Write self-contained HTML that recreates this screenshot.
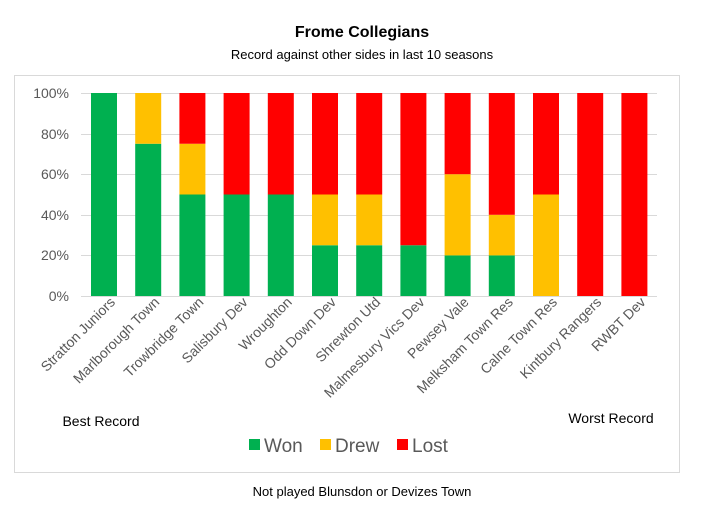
<!DOCTYPE html>
<html><head><meta charset="utf-8"><style>
body{margin:0;background:#fff;width:701px;height:505px;overflow:hidden;font-family:"Liberation Sans",Arial,sans-serif}
</style></head><body>
<svg width="701" height="505" xmlns="http://www.w3.org/2000/svg" font-family="Liberation Sans, Arial, sans-serif">
<rect x="14.5" y="75.5" width="665" height="397" fill="#fff" stroke="#d9d9d9"/>
<text x="362" y="37" text-anchor="middle" font-size="16" font-weight="bold">Frome Collegians</text>
<text x="362" y="59" text-anchor="middle" font-size="13">Record against other sides in last 10 seasons</text>
<g stroke="#d9d9d9" stroke-width="1">
<line x1="81" x2="657" y1="93.5" y2="93.5"/><line x1="81" x2="657" y1="134.5" y2="134.5"/>
<line x1="81" x2="657" y1="174.5" y2="174.5"/><line x1="81" x2="657" y1="215.5" y2="215.5"/>
<line x1="81" x2="657" y1="255.5" y2="255.5"/><line x1="81" x2="657" y1="296.5" y2="296.5"/>
</g>
<g font-size="14" fill="#595959" text-anchor="end">
<text x="69" y="98">100%</text><text x="69" y="139">80%</text><text x="69" y="179">60%</text>
<text x="69" y="220">40%</text><text x="69" y="260">20%</text><text x="69" y="301">0%</text>
</g>
<g id="bars"></g>
<g id="labels" font-size="14" fill="#595959" text-anchor="end"></g>
<text x="101" y="426" text-anchor="middle" font-size="14">Best Record</text>
<text x="611" y="423" text-anchor="middle" font-size="14">Worst Record</text>
<g font-size="19" fill="#595959">
<rect x="249" y="439" width="11" height="11" fill="#00B050"/><text x="264" y="452">Won</text>
<rect x="320" y="439" width="11" height="11" fill="#FFC000"/><text x="335" y="452">Drew</text>
<rect x="397" y="439" width="11" height="11" fill="#FF0000"/><text x="412" y="452">Lost</text>
</g>
<text x="362" y="496" text-anchor="middle" font-size="13">Not played Blunsdon or Devizes Town</text>
<script>
var d=[["Stratton Juniors",100,0,0],["Marlborough Town",75,25,0],["Trowbridge Town",50,25,25],["Salisbury Dev",50,0,50],["Wroughton",50,0,50],["Odd Down Dev",25,25,50],["Shrewton Utd",25,25,50],["Malmesbury Vics Dev",25,0,75],["Pewsey Vale",20,40,40],["Melksham Town Res",20,20,60],["Calne Town Res",0,50,50],["Kintbury Rangers",0,0,100],["RWBT Dev",0,0,100]];
var ns="http://www.w3.org/2000/svg",b=document.getElementById("bars"),l=document.getElementById("labels");
var y0=296,h=203/100;
d.forEach(function(r,i){var c=104+i*44.2,y=y0;
[[r[1],"#00B050"],[r[2],"#FFC000"],[r[3],"#FF0000"]].forEach(function(s){if(!s[0])return;var e=document.createElementNS(ns,"rect");var hh=s[0]*h;y-=hh;e.setAttribute("x",c-13);e.setAttribute("y",y);e.setAttribute("width",26);e.setAttribute("height",hh);e.setAttribute("fill",s[1]);b.appendChild(e);});
var t=document.createElementNS(ns,"text");t.setAttribute("transform","translate("+(c+12)+",303) rotate(-45)");t.textContent=r[0];l.appendChild(t);});
</script>
</svg>
</body></html>
